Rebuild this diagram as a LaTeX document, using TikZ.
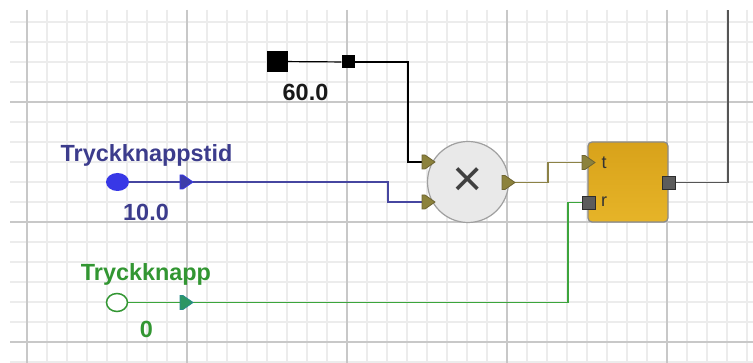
\documentclass[tikz,border=0pt]{standalone}
\usepackage{fontspec}
\setmainfont{Liberation Sans}
\usetikzlibrary{shapes.geometric,shapes.symbols}
\pgfdeclarelayer{bg}
\pgfdeclarelayer{wires}
\pgfsetlayers{bg,wires,main}
\definecolor{gminor}{RGB}{236,236,236}
\definecolor{gmajor}{RGB}{200,200,200}
\definecolor{bluetxt}{RGB}{60,60,140}
\definecolor{bluewire}{RGB}{70,70,160}
\definecolor{bluedot}{RGB}{56,56,230}
\definecolor{bluearrfill}{RGB}{60,60,170}
\definecolor{greentxt}{RGB}{50,150,50}
\definecolor{greenwire}{RGB}{60,165,60}
\definecolor{greenarrfill}{RGB}{45,150,100}
\definecolor{greenarrdraw}{RGB}{40,140,140}
\definecolor{olivewire}{RGB}{140,130,70}
\definecolor{olivefill}{RGB}{140,130,60}
\definecolor{olivedraw}{RGB}{110,100,50}
\definecolor{blocktop}{RGB}{216,162,26}
\definecolor{blockbot}{RGB}{230,180,40}
\definecolor{blockedge}{RGB}{138,138,138}
\definecolor{portfill}{RGB}{92,92,92}
\definecolor{portdraw}{RGB}{45,45,45}
\definecolor{multfill}{RGB}{233,233,233}
\definecolor{multedge}{RGB}{160,160,160}
\definecolor{outwire}{RGB}{85,85,85}
\begin{document}
\begin{tikzpicture}[x=1pt,y=-1pt,
  minorline/.style={gminor,line width=1.6pt},
  majorline/.style={gmajor,line width=1.6pt},
  wire/.style={line width=1.2pt},
  arrowport/.style={signal,signal to=east,signal pointer angle=70,minimum width=13pt,minimum height=14pt,inner sep=0pt,outer sep=0pt,line width=0.8pt,anchor=west},
  sqport/.style={rectangle,minimum size=13pt,inner sep=0pt,outer sep=0pt,fill=portfill,draw=portdraw,line width=0.8pt},
  lbl/.style={font=\fontsize{23.4}{26}\selectfont\bfseries,anchor=base,inner sep=0pt},
  portlbl/.style={font=\fontsize{18}{20}\selectfont,text=black!80,anchor=base west,inner sep=0pt}]
\useasboundingbox (0,0) rectangle (753,363);
\begin{pgfonlayer}{bg}
  \fill[white] (0,0) rectangle (753,363);
  \foreach \x in {27,47,...,747} \draw[minorline] (\x,10) -- (\x,363);
  \foreach \y in {22,42,...,362} \draw[minorline] (10,\y) -- (753,\y);
  \foreach \x in {27,187,347,507,667} \draw[majorline] (\x,10) -- (\x,363);
  \foreach \y in {102,222,342} \draw[majorline] (10,\y) -- (753,\y);
\end{pgfonlayer}

% constant block
\node[rectangle,fill=black,minimum size=21pt,inner sep=0pt] (cbig) at (277.5,61.5) {};
\node[rectangle,fill=black,minimum size=13pt,inner sep=0pt] (csmall) at (348,62) {};
\node[lbl,text=black!90] (cval) at (305.5,101) {60.0};

% Tryckknappstid
\node[lbl,text=bluetxt] (bname) at (146.5,162) {Tryckknappstid};
\node[ellipse,fill=bluedot,minimum width=23pt,minimum height=18pt,inner sep=0pt] (bdot) at (117.5,182) {};
\node[arrowport,fill=bluearrfill,draw=bluedot] (barr) at (180,182) {};
\node[lbl,text=bluetxt] (bval) at (146,220.5) {10.0};

% Tryckknapp
\node[lbl,text=greentxt] (gname) at (146,281) {Tryckknapp};
\node[ellipse,draw=greentxt,fill=white,line width=1.5pt,minimum width=21pt,minimum height=18pt,inner sep=0pt] (gcir) at (117,302.5) {};
\node[arrowport,fill=greenarrfill,draw=greenarrdraw] (garr) at (180,302.5) {};
\node[lbl,text=greentxt] (gval) at (146.5,338) {0};

% multiplier
\node[circle,minimum size=81pt,inner sep=0pt,fill=multfill,draw=multedge,line width=1.2pt] (mult) at (468,182) {};
\node[font=\fontsize{52}{52}\selectfont,text=black!75,inner sep=0pt] (mulsym) at (468,182) {×};
\node[arrowport,fill=olivefill,draw=olivedraw] (in1) at (422,162) {};
\node[arrowport,fill=olivefill,draw=olivedraw] (in2) at (422,202) {};
\node[arrowport,fill=olivefill,draw=olivedraw] (mout) at (502,182.5) {};

% orange block
\node[rectangle,rounded corners=4pt,minimum width=80pt,minimum height=80pt,inner sep=0pt,
      top color=blocktop,bottom color=blockbot,draw=blockedge,line width=1.2pt] (blk) at (628,182) {};
\node[arrowport,fill=olivefill,draw=olivedraw] (tport) at (582,162.5) {};
\node[sqport] (rport) at (588.5,202.5) {};
\node[sqport] (oport) at (668.5,182.5) {};
\node[portlbl] (tlbl) at (601.5,169) {t};
\node[portlbl] (rlbl) at (601,207) {r};

\coordinate (topend) at (728,10);
\coordinate (kturn) at (408,62);
\coordinate (bturn) at (388,182);
\coordinate (gturn) at (568,302.5);
\coordinate (oturn) at (548,182.5);

\begin{pgfonlayer}{wires}
  \draw[wire,black] (cbig) -- (csmall);
  \draw[wire,black] (csmall) -- (kturn) |- (in1.west);
  \draw[wire,bluewire] (bdot) -- (barr);
  \draw[wire,bluewire] (barr) -- (bturn) |- (in2.west);
  \draw[wire,greenwire] (gcir) -- (garr);
  \draw[wire,greenwire] (garr) -- (gturn) |- (rport.west);
  \draw[wire,olivewire] (mout) -- (oturn) |- (tport.west);
  \draw[wire,outwire] (oport) -| (topend);
\end{pgfonlayer}
\end{tikzpicture}
\end{document}
